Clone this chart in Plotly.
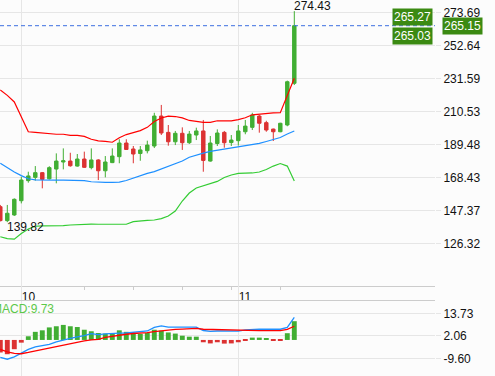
import plotly.graph_objects as go

# ---- data ----
day_ticks = [3, 34]
day_labels = ["10", "11"]
minor_ticks = [12, 19, 26, 33, 40]

opens = [149.7, 140.8, 144.4, 153.5, 166.3, 168.4, 171.4, 167.5, 173.7, 178.2, 178.8, 175.6, 180.1, 174.6, 179.5,
         172.6, 177.8, 181.6, 190.3, 186.5, 183.6, 185.4, 188.4, 207.5, 197.1, 191.1, 196.5, 190.5, 195.4, 198.0,
         178.8, 190.0, 197.1, 190.6, 191.8, 197.5, 200.3, 207.5, 203.3, 199.2, 197.5, 201.8, 228.4]
highs = [150.8, 150.8, 155.0, 168.8, 172.0, 175.6, 171.8, 175.5, 183.7, 186.9, 184.1, 183.3, 184.8, 186.9, 180.0,
         182.0, 186.9, 192.7, 192.7, 188.4, 188.4, 191.8, 209.6, 214.6, 201.8, 198.0, 200.3, 198.0, 200.1, 205.0,
         194.8, 199.0, 198.0, 195.4, 201.8, 205.0, 209.6, 208.2, 204.5, 199.5, 203.2, 230.1, 274.43]
lows = [140.3, 139.82, 143.8, 151.8, 165.0, 166.3, 161.4, 167.0, 164.6, 173.5, 175.2, 175.2, 174.4, 173.5, 166.7,
        168.4, 177.5, 177.4, 185.9, 177.4, 179.0, 183.7, 187.1, 195.4, 188.6, 189.0, 185.9, 189.7, 192.2, 172.0,
        178.4, 188.4, 187.3, 188.4, 188.7, 195.9, 198.6, 196.9, 197.5, 191.6, 197.2, 201.0, 227.3]
closes = [140.8, 145.5, 154.4, 166.7, 169.3, 171.4, 167.1, 174.6, 178.8, 179.0, 175.8, 180.1, 174.8, 179.5, 172.6,
          178.2, 182.0, 190.3, 186.2, 183.3, 185.9, 189.0, 207.5, 196.7, 191.1, 196.5, 190.5, 196.0, 198.0, 179.2,
          190.3, 196.7, 190.5, 192.2, 198.0, 201.1, 208.2, 202.9, 198.6, 197.5, 202.9, 229.4, 265.15]

bb_upper = [224.1, 220.7, 216.5, 206.9, 197.5, 197.1, 196.7, 195.9, 195.9, 195.9, 195.2, 195.2, 194.5, 192.7, 191.7,
            191.3, 190.8, 193.7, 195.7, 196.9, 198.2, 200.3, 204.0, 206.3, 207.5, 207.2, 206.3, 204.7, 203.9, 203.5,
            203.5, 204.5, 204.4, 204.4, 205.2, 206.4, 208.3, 208.8, 209.3, 209.5, 209.6, 221.0, 231.6]
bb_mid = [177.4, 174.5, 171.8, 169.5, 167.5, 166.8, 166.6, 166.6, 166.6, 166.6, 166.6, 166.6, 166.3, 165.6, 165.2,
          165.2, 165.2, 165.4, 166.4, 168.0, 169.3, 170.9, 172.1, 173.7, 175.3, 176.9, 178.8, 181.2, 182.7, 183.9,
          185.0, 185.7, 186.3, 187.0, 187.8, 188.4, 189.2, 190.1, 191.3, 192.5, 193.8, 196.1, 198.0]
bb_lower = [130.5, 129.3, 129.0, 132.6, 135.5, 137.2, 137.4, 137.4, 137.4, 137.6, 138.0, 138.3, 138.6, 138.6, 138.5,
            138.5, 138.5, 138.5, 138.5, 140.2, 140.7, 141.0, 141.2, 142.1, 143.7, 146.9, 153.3, 158.4, 161.6, 162.9,
            164.2, 165.8, 168.3, 169.9, 170.9, 171.0, 171.2, 171.8, 173.4, 175.6, 177.2, 175.6, 166.1]

macd_hist = [-6.5, -7.4, -4.8, -1.4, 1.9, 4.2, 5.0, 6.5, 7.1, 7.8, 7.1, 6.7, 5.3, 4.5, 3.6, 3.3, 3.6, 5.0, 4.2, 3.6,
             3.1, 3.6, 5.3, 4.8, 3.9, 3.3, 2.2, 1.7, 1.7, -1.2, -1.8, -1.2, -1.9, -1.8, -1.2, -0.4, 1.2, 1.2, 0.7,
             -0.4, -0.4, 3.5, 9.73]
macd_dif = [-9.1, -10.0, -8.8, -7.0, -4.9, -3.6, -2.85, -2.3, -1.0, 0.0, 0.8, 1.55, 2.2, 3.3, 2.8, 3.2, 3.5, 3.5,
            3.6, 3.9, 4.4, 4.65, 6.5, 7.25, 6.7, 6.6, 6.6, 6.5, 6.6, 4.9, 4.4, 4.65, 4.65, 4.55, 4.55, 5.2, 5.55,
            5.55, 5.55, 5.55, 5.55, 6.5, 11.65]
macd_dea = [-4.9, -6.2, -7.0, -7.15, -6.5, -5.7, -5.1, -4.3, -3.4, -2.6, -1.8, -1.05, -0.5, 0.0, 0.25, 1.3, 1.9,
            2.6, 2.95, 3.35, 3.5, 3.8, 4.3, 4.8, 5.1, 5.45, 5.6, 5.95, 6.05, 5.55, 5.45, 5.2, 5.1, 4.9, 4.8, 4.85,
            4.85, 4.85, 4.85, 4.85, 4.85, 5.45, 7.1]

main_ticks = [273.69, 252.64, 231.59, 210.53, 189.48, 168.43, 147.37, 126.32]
main_ticktext = ["273.69", "252.64", "231.59", "210.53", "189.48", "168.43", "147.37", "126.32"]
macd_ticks = [13.73, 2.06, -9.60]
macd_ticktext = ["13.73", "2.06", "-9.60"]
bid_ask = [265.27, 265.03]
macd_label_value = 9.73

# ---- styles ----
GREEN = "#41ae33"
RED = "#dc3232"
GRID = "#e6e6e6"
AXLINE = "#cccccc"
TAG = "#3b8a12"
FONT = "Liberation Sans, Arial, sans-serif"

x = list(range(len(closes)))
x_range = [-0.043, 62.1]

fig = go.Figure()

fig.add_trace(go.Scatter(x=x, y=bb_upper, mode="lines", line=dict(color="#ff0000", width=1.2),
                         xaxis="x", yaxis="y", hoverinfo="skip"))
fig.add_trace(go.Scatter(x=x, y=bb_mid, mode="lines", line=dict(color="#1e90ff", width=1.2),
                         xaxis="x", yaxis="y", hoverinfo="skip"))
fig.add_trace(go.Scatter(x=x, y=bb_lower, mode="lines", line=dict(color="#33cc33", width=1.2),
                         xaxis="x", yaxis="y", hoverinfo="skip"))

fig.add_trace(go.Candlestick(
    x=x, open=opens, high=highs, low=lows, close=closes,
    increasing=dict(line=dict(color=GREEN, width=1), fillcolor=GREEN),
    decreasing=dict(line=dict(color=RED, width=1), fillcolor=RED),
    xaxis="x", yaxis="y", whiskerwidth=0))

fig.add_trace(go.Bar(x=x, y=macd_hist, width=0.7,
                     marker=dict(color=[GREEN if v >= 0 else RED for v in macd_hist], line=dict(width=0)),
                     xaxis="x2", yaxis="y2"))
fig.add_trace(go.Scatter(x=x, y=macd_dif, mode="lines", line=dict(color="#1e90ff", width=1.3),
                         xaxis="x2", yaxis="y2"))
fig.add_trace(go.Scatter(x=x, y=macd_dea, mode="lines", line=dict(color="#ff0000", width=1.3),
                         xaxis="x2", yaxis="y2"))

main_bottom = (376 - 286) / 376
macd_top = (376 - 301) / 376

fig.update_layout(
    width=495, height=376,
    margin=dict(l=0, r=60, t=0, b=0, autoexpand=False),
    paper_bgcolor="#fcfcfc", plot_bgcolor="#fcfcfc",
    showlegend=False,
    font=dict(family=FONT, size=12, color="#111111"),
    bargap=0.3,
    xaxis=dict(domain=[0, 1], anchor="y", range=x_range, tickmode="array", tickvals=day_ticks,
               ticktext=day_labels, ticks="", ticklabelposition="outside right",
               showgrid=True, gridcolor=GRID, gridwidth=1, zeroline=False,
               showline=True, linecolor=AXLINE, linewidth=1, automargin=False,
               minor=dict(tickmode="array", tickvals=minor_ticks, ticks="outside", ticklen=3,
                          tickcolor=AXLINE, showgrid=False),
               rangeslider=dict(visible=False), tickfont=dict(size=12, color="#111111"), fixedrange=True),
    yaxis=dict(domain=[main_bottom, 1], anchor="x", side="right", range=[99.10, 281.536],
               tickmode="array", tickvals=main_ticks, ticktext=main_ticktext, automargin=False,
               ticks="outside", ticklen=5, tickcolor=GRID, gridcolor=GRID, zeroline=False,
               showline=False, tickfont=dict(size=12, color="#111111")),
    xaxis2=dict(domain=[0, 1], anchor="y2", range=x_range, side="top", tickmode="array",
                tickvals=day_ticks, ticks="outside", ticklen=15, tickcolor=GRID, showticklabels=False,
                automargin=False,
                showgrid=True, gridcolor=GRID, zeroline=False, showline=True, linecolor=AXLINE, linewidth=1),
    yaxis2=dict(domain=[0, macd_top], anchor="x2", side="right", range=[-18.7, 20.2],
                tickmode="array", tickvals=macd_ticks, ticktext=macd_ticktext, automargin=False,
                ticks="outside", ticklen=5, tickcolor=GRID, gridcolor=GRID, zeroline=False,
                showline=False, tickfont=dict(size=12, color="#111111")),
)

last_close = closes[-1]
fig.add_shape(type="line", xref="paper", x0=0, x1=1, yref="y", y0=last_close, y1=last_close,
              line=dict(color="#3d6fe0", width=1, dash="4px,3px"))

hi_idx = max(range(len(highs)), key=lambda i: highs[i])
lo_idx = min(range(len(lows)), key=lambda i: lows[i])

annotations = [
    dict(x=hi_idx, y=highs[hi_idx], xref="x", yref="y", text=f"{highs[hi_idx]:.2f}", showarrow=False,
         xanchor="left", yanchor="bottom", xshift=-2, yshift=-4, font=dict(size=12, color="#111111")),
    dict(x=lo_idx, y=lows[lo_idx], xref="x", yref="y", text=f"{lows[lo_idx]:.2f}", showarrow=False,
         xanchor="left", yanchor="top", xshift=-2, yshift=4, font=dict(size=12, color="#111111")),
    dict(x=1, y=last_close, xref="paper", yref="y", text=f"{bid_ask[0]:.2f}", showarrow=False,
         xanchor="right", yanchor="middle", xshift=-2, yshift=9, bgcolor=TAG, borderpad=1,
         font=dict(size=12, color="white")),
    dict(x=1, y=last_close, xref="paper", yref="y", text=f"{bid_ask[1]:.2f}", showarrow=False,
         xanchor="right", yanchor="middle", xshift=-2, yshift=-10, bgcolor=TAG, borderpad=1,
         font=dict(size=12, color="white")),
    dict(x=1, y=last_close, xref="paper", yref="y", text=f"{last_close:.2f}", showarrow=False,
         xanchor="left", yanchor="middle", xshift=7, bgcolor=TAG, borderpad=1,
         font=dict(size=12, color="white")),
    dict(x=0, y=macd_top, xref="paper", yref="paper", text=f"MACD:{macd_label_value:.2f}", showarrow=False,
         xanchor="left", yanchor="top", xshift=-10, yshift=1, font=dict(size=12, color="#5cc84a")),
]
fig.update_layout(annotations=annotations)

fig.write_html("out.html", config={"displayModeBar": False},
               post_script="document.body.style.margin='0';document.body.style.padding='0';")
